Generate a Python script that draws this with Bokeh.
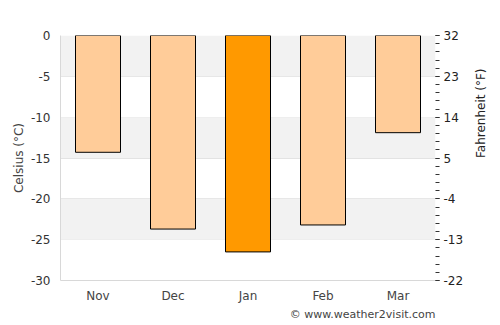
import math
from bokeh.plotting import figure
from bokeh.models import Range1d, LinearAxis, FixedTicker, Title, ColumnDataSource, BoxAnnotation, PrintfTickFormatter
from bokeh.embed import file_html
from bokeh.resources import INLINE

months = ["Nov", "Dec", "Jan", "Feb", "Mar"]
celsius = [-14.3, -23.7, -26.5, -23.2, -11.9]
colors = ["#ffcc99", "#ffcc99", "#ff9900", "#ffcc99", "#ffcc99"]
c_ticks = [-30, -25, -20, -15, -10, -5, 0]
f_ticks = [-22, -13, -4, 5, 14, 23, 32]
credit_text = "© www.weather2visit.com"

FONT = "DejaVu Sans"

p = figure(x_range=months, y_range=Range1d(-30, 0), width=500, height=325,
           output_backend="svg", toolbar_location=None,
           min_border_left=60, min_border_right=65, min_border_top=35, min_border_bottom=45)
p.extra_y_ranges = {"f": Range1d(-22, 32)}

desc = sorted(c_ticks, reverse=True)
for i in range(0, len(desc) - 1, 2):
    p.add_layout(BoxAnnotation(bottom=desc[i + 1], top=desc[i], fill_color="#f2f2f2",
                               fill_alpha=1.0, line_color=None, level="underlay"))

src = ColumnDataSource(dict(m=months, c=celsius, col=colors))
p.vbar(x="m", top=0, bottom="c", width=0.6, source=src, fill_color="col",
       line_color="black", line_width=1)

p.outline_line_color = None
p.background_fill_color = "white"
p.xgrid.grid_line_color = None
p.ygrid.grid_line_color = "#e3e3e3"
p.ygrid.level = "underlay"

ya = p.yaxis[0]
ya.ticker = FixedTicker(ticks=c_ticks)
ya.formatter = PrintfTickFormatter(format="%d")
ya.axis_label = "Celsius (°C)"
ya.axis_label_text_font = FONT
ya.axis_label_text_font_size = "12px"
ya.axis_label_text_font_style = "normal"
ya.axis_label_text_color = "#444444"
ya.axis_label_standoff = 2
ya.major_label_text_font = FONT
ya.major_label_text_font_size = "12px"
ya.major_label_text_color = "#333333"
ya.major_tick_line_color = None
ya.minor_tick_line_color = None
ya.major_tick_in = 0
ya.major_tick_out = 0
ya.minor_tick_in = 0
ya.minor_tick_out = 0
ya.axis_line_color = "#d8d8d8"
ya.major_label_standoff = 10

xa = p.xaxis[0]
xa.major_label_text_font = FONT
xa.major_label_text_font_size = "12px"
xa.major_label_text_color = "#444444"
xa.major_tick_line_color = None
xa.major_tick_in = 0
xa.major_tick_out = 0
xa.minor_tick_in = 0
xa.minor_tick_out = 0
xa.axis_line_color = "#d8d8d8"
xa.major_label_standoff = 8

ra = LinearAxis(y_range_name="f", ticker=FixedTicker(ticks=f_ticks, minor_ticks=[-22 + 1.8 * i for i in range(31)]))
ra.formatter = PrintfTickFormatter(format="%d")
ra.axis_label = "Fahrenheit (°F)"
ra.axis_label_text_font = FONT
ra.axis_label_text_font_size = "12px"
ra.axis_label_text_font_style = "normal"
ra.axis_label_text_color = "#222222"
ra.axis_label_standoff = 15
if hasattr(ra, "axis_label_orientation"):
    ra.axis_label_orientation = math.pi / 2
ra.major_label_text_font = FONT
ra.major_label_text_font_size = "12px"
ra.major_label_text_color = "#222222"
ra.axis_line_color = None
ra.major_tick_in = 0
ra.major_tick_out = 4
ra.minor_tick_in = 0
ra.minor_tick_out = 4
ra.major_tick_line_color = "#333333"
ra.minor_tick_line_color = "#333333"
ra.major_label_standoff = 4
p.add_layout(ra, "right")

credit = Title(text=credit_text, align="right", text_font=FONT,
               text_font_size="11px", text_font_style="normal", text_color="#444444",
               standoff=0, offset=0)
p.add_layout(credit, "below")

open("out.html", "w").write(file_html(p, INLINE))
